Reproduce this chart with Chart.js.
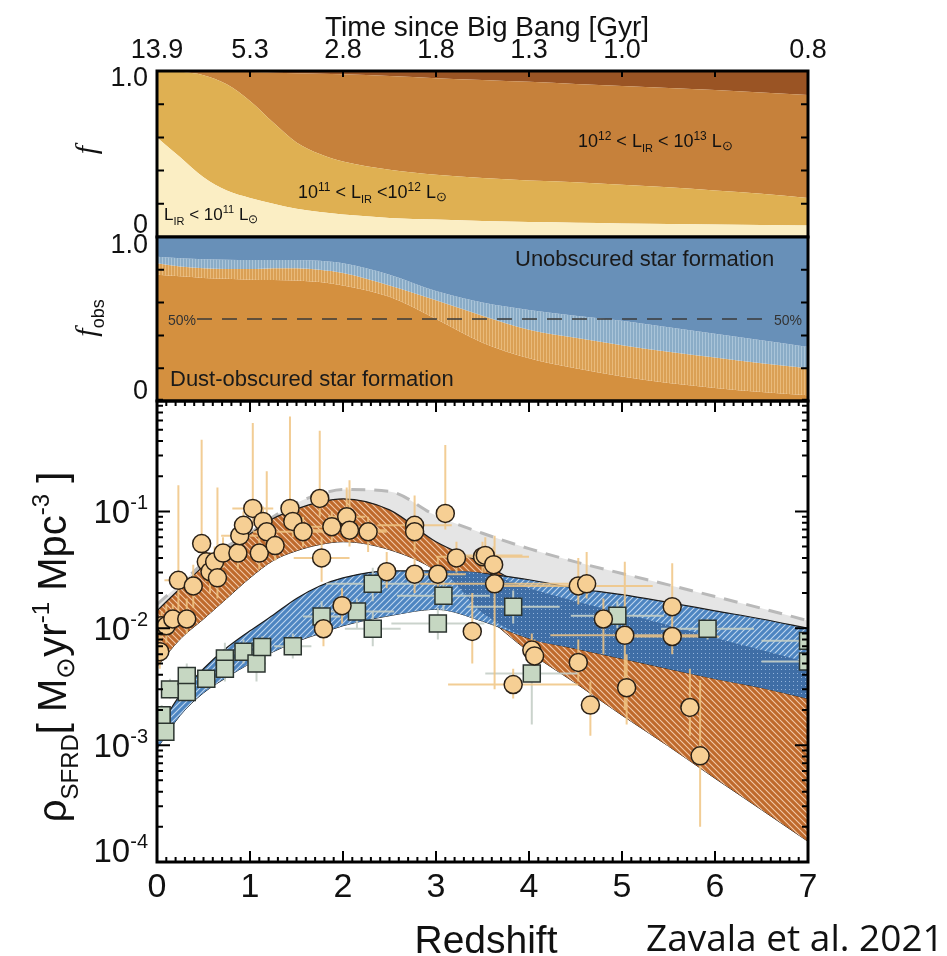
<!DOCTYPE html>
<html>
<head>
<meta charset="utf-8">
<script src="https://cdn.jsdelivr.net/npm/chart.js@4.4.0/dist/chart.umd.min.js"></script>
<style>
  body { margin: 0; background: #fff; }
  #wrap { position: relative; width: 947px; height: 956px; }
  #wrap canvas { position: absolute; left: 0; top: 0; }
</style>
</head>
<body>
<div id="wrap">
  <canvas id="fracChart" width="947" height="956"></canvas>
  <canvas id="obsChart" width="947" height="956"></canvas>
  <canvas id="sfrdChart" width="947" height="956"></canvas>
</div>
<script>
// redshift grid shared by all model curves
const redshiftGrid = [0, 0.25, 0.5, 0.75, 1, 1.25, 1.5, 1.75, 2, 2.5, 3, 3.5, 4, 4.5, 5, 5.5, 6, 6.5, 7];
const timeLabels = ['13.9', '5.3', '2.8', '1.8', '1.3', '1.0', '', '0.8'];

// top panel: cumulative fraction of SFRD per L_IR bin
const fracFaint = [0.60, 0.48, 0.36, 0.28, 0.235, 0.20, 0.17, 0.15, 0.135, 0.115, 0.105, 0.097, 0.09, 0.086, 0.082, 0.078, 0.075, 0.072, 0.07];
const fracLirg  = [1.0, 0.995, 0.975, 0.92, 0.82, 0.69, 0.57, 0.50, 0.455, 0.405, 0.375, 0.355, 0.34, 0.33, 0.315, 0.30, 0.28, 0.26, 0.235];
const fracUlirg = [1.0, 1.0, 0.998, 0.996, 0.994, 0.99, 0.987, 0.984, 0.98, 0.97, 0.957, 0.946, 0.935, 0.922, 0.91, 0.897, 0.885, 0.87, 0.855];

// middle panel: obscured fraction (lower bound, median, upper bound)
const obsLow  = [0.77, 0.76, 0.75, 0.745, 0.74, 0.738, 0.735, 0.725, 0.705, 0.635, 0.50, 0.355, 0.26, 0.20, 0.15, 0.11, 0.08, 0.055, 0.035];
const obsMid  = [0.84, 0.82, 0.81, 0.805, 0.805, 0.81, 0.81, 0.80, 0.78, 0.705, 0.615, 0.52, 0.435, 0.385, 0.34, 0.30, 0.265, 0.23, 0.20];
const obsHigh = [0.88, 0.87, 0.865, 0.862, 0.86, 0.86, 0.86, 0.855, 0.84, 0.77, 0.67, 0.60, 0.555, 0.52, 0.49, 0.45, 0.41, 0.37, 0.33];
const halfLineZ = [0.43, 6.55];
const halfLevel = 0.5;

// bottom panel: SFRD bands
const totalBandHi = [0.016, 0.024, 0.036, 0.05, 0.065, 0.09, 0.118, 0.14, 0.154, 0.148, 0.092, 0.065, 0.048, 0.037, 0.0294, 0.0235, 0.0187, 0.0148, 0.0116];
const totalBandLo = [0.012, 0.019, 0.03, 0.042, 0.057, 0.078, 0.095, 0.11, 0.118, 0.095, 0.05, 0.032, 0.024, 0.02, 0.018, 0.015, 0.013, 0.011, 0.0092];
const dustBandHi = [0.0141, 0.022, 0.034, 0.047, 0.064, 0.087, 0.105, 0.12, 0.128, 0.103, 0.055, 0.036, 0.022, 0.017, 0.0135, 0.0106, 0.0083, 0.0065, 0.0051];
const dustBandLo = [0.0047, 0.0081, 0.012, 0.018, 0.027, 0.038, 0.046, 0.052, 0.055, 0.047, 0.031, 0.0135, 0.0063, 0.0034, 0.0018, 0.00098, 0.00052, 0.00028, 0.00015];
const uvBandHi = [0.0013, 0.0027, 0.0045, 0.0068, 0.0095, 0.013, 0.018, 0.023, 0.027, 0.031, 0.031, 0.0295, 0.026, 0.022, 0.0194, 0.0166, 0.0141, 0.012, 0.0100];
const uvBandLo = [0.00093, 0.0018, 0.0028, 0.0038, 0.005, 0.0063, 0.0077, 0.009, 0.0105, 0.0128, 0.0145, 0.0115, 0.0082, 0.0067, 0.0055, 0.0045, 0.0037, 0.0031, 0.0025];

// IR / sub-mm measurements (circles)
const irZ = [0.03, 0.05, 0.10, 0.17, 0.32, 0.23, 0.39, 0.48, 0.53, 0.57, 0.62, 0.65, 0.71, 0.87, 0.89, 0.93, 1.03, 1.10, 1.14, 1.18, 1.27, 1.43, 1.46, 1.57, 1.75, 1.77, 1.88, 2.04, 2.07, 2.27, 2.47, 2.77, 2.77, 2.77, 3.02, 3.10, 3.22, 1.99, 1.79, 3.39, 3.50, 3.53, 3.62, 3.63, 4.53, 4.62, 5.54, 4.80, 5.03, 5.54, 4.03, 4.06, 4.53, 3.83, 5.05, 4.66, 5.73, 5.84];
const irRate = [0.0063, 0.0105, 0.0105, 0.012, 0.012, 0.0257, 0.023, 0.053, 0.037, 0.0305, 0.037, 0.027, 0.044, 0.044, 0.062, 0.076, 0.106, 0.044, 0.082, 0.067, 0.051, 0.106, 0.082, 0.067, 0.129, 0.040, 0.074, 0.090, 0.069, 0.067, 0.0305, 0.076, 0.067, 0.029, 0.029, 0.096, 0.040, 0.0156, 0.0099, 0.0094, 0.041, 0.042, 0.035, 0.024, 0.023, 0.024, 0.0153, 0.012, 0.0087, 0.0085, 0.0065, 0.0058, 0.0051, 0.0033, 0.0031, 0.0022, 0.0021, 0.00081];
const irZErr = [0, 0.05, 0, 0.1, 0.1, 0.15, 0, 0, 0.1, 0, 0.1, 0, 0.1, 0, 0.2, 0, 0.22, 0, 0, 0.15, 0, 0.1, 0, 0.3, 0, 0.3, 0.3, 0.2, 0.4, 0.2, 0, 0.4, 0, 0, 0.3, 0, 0, 0, 0, 0, 0.5, 0.4, 0, 0.8, 0.8, 0, 0, 0, 0.8, 0.5, 0, 0, 0, 0.7, 0, 0, 0, 0];
const irRateLo = [0.0045, 0.008, 0.0075, 0.009, 0.009, 0.012, 0.015, 0.03, 0.025, 0.02, 0.028, 0.018, 0.033, 0.032, 0.045, 0.055, 0.075, 0.032, 0.06, 0.048, 0.038, 0.075, 0.06, 0.05, 0.09, 0.025, 0.055, 0.065, 0.05, 0.045, 0.022, 0.05, 0.045, 0.02, 0.02, 0.07, 0.03, 0.011, 0.007, 0.005, 0.03, 0.03, 0.025, 0.003, 0.016, 0.018, 0.0085, 0.006, 0.002, 0.006, 0.004, 0.004, 0.0035, 0.0025, 0.0015, 0.0012, 0.0012, 0.0002];
const irRateHi = [0.009, 0.014, 0.016, 0.016, 0.018, 0.167, 0.035, 0.41, 0.06, 0.045, 0.05, 0.16, 0.06, 0.06, 0.085, 0.10, 0.57, 0.06, 0.11, 0.22, 0.07, 0.65, 0.11, 0.09, 0.49, 0.06, 0.10, 0.16, 0.185, 0.09, 0.045, 0.137, 0.09, 0.04, 0.04, 0.37, 0.055, 0.022, 0.014, 0.02, 0.055, 0.06, 0.05, 0.062, 0.04, 0.045, 0.036, 0.018, 0.037, 0.012, 0.009, 0.008, 0.008, 0.0045, 0.006, 0.0035, 0.0045, 0.0036];

// UV measurements (squares)
const uvZ = [0.05, 0.09, 0.14, 0.32, 0.32, 0.53, 0.73, 0.73, 0.93, 1.07, 1.13, 1.46, 1.77, 2.15, 2.32, 2.32, 3.02, 3.08, 3.83, 4.03, 4.95, 5.92, 7.0, 7.0];
const uvRate = [0.0018, 0.0013, 0.0030, 0.0039, 0.00285, 0.0037, 0.0055, 0.0045, 0.0063, 0.005, 0.0069, 0.0070, 0.0126, 0.0139, 0.0099, 0.024, 0.011, 0.019, 0.0153, 0.0041, 0.0128, 0.0099, 0.0078, 0.0052];
const uvZErr = [0, 0, 0.05, 0, 0, 0.1, 0, 0, 0.15, 0.1, 0.1, 0.2, 0.2, 0.4, 0.3, 0.5, 0.5, 0.5, 0.5, 0.5, 0.5, 0.5, 0.5, 0.5];
const uvRateLo = [0.0015, 0.0011, 0.0025, 0.003, 0.0024, 0.003, 0.004, 0.0035, 0.005, 0.0035, 0.0055, 0.0055, 0.009, 0.01, 0.007, 0.017, 0.008, 0.014, 0.011, 0.0015, 0.01, 0.008, 0.007, 0.0045];
const uvRateHi = [0.0022, 0.0016, 0.0037, 0.005, 0.0035, 0.0045, 0.0075, 0.006, 0.008, 0.0065, 0.0085, 0.009, 0.017, 0.018, 0.014, 0.033, 0.015, 0.026, 0.021, 0.006, 0.017, 0.012, 0.0095, 0.006];

const SANS = '"Liberation Sans", Arial, Helvetica, sans-serif';
const SERIF = '"Liberation Serif", "Times New Roman", serif';
Chart.defaults.font.family = SANS;

const curve = arr => redshiftGrid.map((z, i) => ({ x: z, y: arr[i] }));
const points = (zs, vs) => zs.map((z, i) => ({ x: z, y: vs[i] }));

function makePattern(bg, size, paint) {
  const c = document.createElement('canvas');
  c.width = size; c.height = size;
  const g = c.getContext('2d');
  g.fillStyle = bg;
  g.fillRect(0, 0, size, size);
  paint(g, size);
  return g.createPattern(c, 'repeat');
}
const orangeHatch = makePattern('#bf6a2c', 6, (g, s) => {
  g.strokeStyle = 'rgba(255,225,200,0.8)'; g.lineWidth = 1.1;
  g.beginPath();
  g.moveTo(0, 0); g.lineTo(s, s);
  g.moveTo(-1, s - 1); g.lineTo(1, s + 1);
  g.moveTo(s - 1, -1); g.lineTo(s + 1, 1);
  g.stroke();
});
const blueHatch = makePattern('#4d85c1', 6, (g, s) => {
  g.strokeStyle = 'rgba(220,235,250,0.8)'; g.lineWidth = 1.1;
  g.beginPath();
  g.moveTo(0, s); g.lineTo(s, 0);
  g.moveTo(-1, 1); g.lineTo(1, -1);
  g.moveTo(s - 1, s + 1); g.lineTo(s + 1, s - 1);
  g.stroke();
});
const blueDots = makePattern('#3f6ea6', 4, (g) => {
  g.fillStyle = '#93b3da';
  g.fillRect(1, 1, 1, 1);
});
const orangeStripes = makePattern('#daa055', 3, (g) => {
  g.fillStyle = '#e9ba7a';
  g.fillRect(0, 0, 1, 3);
});
const blueStripes = makePattern('#8aacc7', 3, (g) => {
  g.fillStyle = '#a9c4d9';
  g.fillRect(0, 0, 1, 3);
});

// draws a run of text pieces with their own size / vertical shift
function rich(ctx, parts, x, y, align, angle) {
  ctx.save();
  ctx.translate(x, y);
  if (angle) ctx.rotate(angle);
  ctx.textBaseline = 'alphabetic';
  ctx.textAlign = 'left';
  const fontOf = p => `${p[3] || ''} ${p[1]}px ${p[4] || SANS}`;
  let w = 0;
  parts.forEach(p => { ctx.font = fontOf(p); w += ctx.measureText(p[0]).width; });
  let cx = align === 'right' ? -w : align === 'center' ? -w / 2 : 0;
  parts.forEach(p => {
    ctx.font = fontOf(p);
    ctx.fillText(p[0], cx, p[2] || 0);
    cx += ctx.measureText(p[0]).width;
  });
  ctx.restore();
}

function tickMarks(ctx, area, scale, list, side) {
  ctx.beginPath();
  list.forEach(([v, len]) => {
    const p = scale.getPixelForValue(v);
    if (side === 'top') { ctx.moveTo(p, area.top); ctx.lineTo(p, area.top + len); }
    if (side === 'bottom') { ctx.moveTo(p, area.bottom); ctx.lineTo(p, area.bottom - len); }
    if (side === 'left') { ctx.moveTo(area.left, p); ctx.lineTo(area.left + len, p); }
    if (side === 'right') { ctx.moveTo(area.right, p); ctx.lineTo(area.right - len, p); }
  });
  ctx.stroke();
}

function drawFrame(ctx, a) {
  ctx.strokeStyle = '#000';
  ctx.lineWidth = 3;
  ctx.strokeRect(a.left, a.top, a.right - a.left, a.bottom - a.top);
  ctx.lineWidth = 2;
}

const fracTicks = [[0.2, 7], [0.4, 7], [0.6, 7], [0.8, 7]];
const zMajor = [1, 2, 3, 4, 5, 6].map(z => [z, 6]);
const zAll = [];
for (let i = 1; i < 70; i++) zAll.push([i / 10, i % 10 === 0 ? 11 : 5]);
const logTicks = [];
for (let e = -4; e <= -1; e++) {
  for (let m = 1; m <= 9; m++) logTicks.push([m * Math.pow(10, e), m === 1 ? 13 : 6]);
}

const baseOptions = (padding) => ({
  responsive: false,
  animation: false,
  layout: { padding },
  elements: { point: { radius: 0 }, line: { borderWidth: 0, cubicInterpolationMode: 'monotone' } },
  plugins: { legend: { display: false }, tooltip: { enabled: false } }
});

const hiddenY = { afterFit: s => { s.width = 157; }, grid: { display: false, drawTicks: false }, border: { display: false }, ticks: { display: false } };

// ---------- top panel ----------
new Chart(document.getElementById('fracChart'), {
  type: 'line',
  data: {
    datasets: [
      { data: curve(fracFaint), fill: 'start', backgroundColor: '#fbeec4' },
      { data: curve(fracLirg), fill: '-1', backgroundColor: '#dfb052' },
      { data: curve(fracUlirg), fill: '-1', backgroundColor: '#c6813b' },
      { data: curve(fracUlirg), fill: 'end', backgroundColor: '#9a5424' }
    ]
  },
  options: Object.assign(baseOptions({ left: 0, right: 139, top: 0, bottom: 719 }), {
    scales: {
      x: {
        type: 'linear', position: 'top', min: 0, max: 7,
        afterFit: s => { s.height = 71; },
        grid: { display: false, drawTicks: false }, border: { display: false },
        ticks: { stepSize: 1, autoSkip: false, maxRotation: 0, padding: 4, color: '#111', font: { size: 27 }, callback: v => timeLabels[v] }
      },
      y: Object.assign({ min: 0, max: 1 }, hiddenY)
    }
  }),
  plugins: [{
    id: 'fracDecor',
    afterDraw(chart) {
      const { ctx, chartArea: a, scales } = chart;
      ctx.save();
      drawFrame(ctx, a);
      tickMarks(ctx, a, scales.y, fracTicks, 'left');
      tickMarks(ctx, a, scales.y, fracTicks, 'right');
      tickMarks(ctx, a, scales.x, zMajor, 'top');
      ctx.fillStyle = '#111';
      ctx.textAlign = 'center';
      ctx.textBaseline = 'alphabetic';
      ctx.font = `28px ${SANS}`;
      ctx.fillText('Time since Big Bang [Gyr]', 487, 36);
      ctx.textAlign = 'right';
      ctx.textBaseline = 'middle';
      ctx.font = `27px ${SANS}`;
      ctx.fillText('1.0', 148, scales.y.getPixelForValue(1) + 8);
      ctx.fillText('0', 148, scales.y.getPixelForValue(0) - 11);
      rich(ctx, [['f', 30, 0, 'italic', SERIF]], 96, 150, 'center', -Math.PI / 2);
      rich(ctx, [['10', 18], ['12', 12, -7], [' < L', 18], ['IR', 11, 5], [' < 10', 18], ['13', 12, -7], [' L', 18], ['\u2299', 13, 3]], 578, 147, 'left');
      rich(ctx, [['10', 18], ['11', 12, -7], [' < L', 18], ['IR', 11, 5], [' <10', 18], ['12', 12, -7], [' L', 18], ['\u2299', 13, 3]], 298, 198, 'left');
      rich(ctx, [['L', 17], ['IR', 11, 5], [' < 10', 17], ['11', 11, -7], [' L', 17], ['\u2299', 12, 3]], 164, 220, 'left');
      ctx.restore();
    }
  }]
});

// ---------- middle panel ----------
new Chart(document.getElementById('obsChart'), {
  type: 'line',
  data: {
    datasets: [
      { data: curve(obsLow), fill: 'start', backgroundColor: '#d4903f', order: 5 },
      { data: curve(obsMid), fill: '-1', backgroundColor: orangeStripes, order: 4 },
      { data: curve(obsHigh), fill: '-1', backgroundColor: blueStripes, order: 3 },
      { data: curve(obsHigh), fill: 'end', backgroundColor: '#6890b8', order: 2 },
      {
        data: halfLineZ.map(z => ({ x: z, y: halfLevel })), fill: false,
        borderColor: '#3a3a3a', borderWidth: 1.5, borderDash: [15, 10], order: 0
      }
    ]
  },
  options: Object.assign(baseOptions({ left: 0, right: 139, top: 237, bottom: 555 }), {
    scales: {
      x: { type: 'linear', min: 0, max: 7, display: false },
      y: Object.assign({ min: 0, max: 1 }, hiddenY)
    }
  }),
  plugins: [{
    id: 'obsDecor',
    afterDraw(chart) {
      const { ctx, chartArea: a, scales } = chart;
      ctx.save();
      drawFrame(ctx, a);
      tickMarks(ctx, a, scales.y, fracTicks, 'left');
      tickMarks(ctx, a, scales.y, fracTicks, 'right');
      ctx.fillStyle = '#1a1a1a';
      ctx.textAlign = 'left';
      ctx.textBaseline = 'alphabetic';
      ctx.font = `22px ${SANS}`;
      ctx.fillText('Unobscured star formation', 515, 266);
      ctx.fillText('Dust-obscured star formation', 170, 386);
      ctx.font = `14px ${SANS}`;
      ctx.fillStyle = '#333';
      ctx.fillText('50%', 168, 325);
      ctx.fillText('50%', 774, 325);
      ctx.fillStyle = '#111';
      ctx.textAlign = 'right';
      ctx.textBaseline = 'middle';
      ctx.font = `27px ${SANS}`;
      ctx.fillText('1.0', 148, scales.y.getPixelForValue(1) + 9);
      ctx.fillText('0', 148, scales.y.getPixelForValue(0) - 9);
      rich(ctx, [['f', 30, 0, 'italic', SERIF], ['obs', 18, 8]], 96, 318, 'center', -Math.PI / 2);
      ctx.restore();
    }
  }]
});

// ---------- bottom panel ----------
const overlapLo = redshiftGrid.map((z, i) => Math.max(dustBandLo[i], uvBandLo[i]));
const overlapHi = redshiftGrid.map((z, i) => Math.min(dustBandHi[i], uvBandHi[i]));
const overlapBase = overlapLo.map((v, i) => Math.min(v, overlapHi[i]));

const UV_POINTS = 8;
new Chart(document.getElementById('sfrdChart'), {
  type: 'line',
  data: {
    datasets: [
      { data: curve(totalBandLo), fill: false, order: 20 },
      { data: curve(totalBandHi), fill: { target: 0 }, backgroundColor: '#e5e5e5', borderColor: '#b9b9b9', borderWidth: 3, borderDash: [14, 9], order: 19 },
      { data: curve(dustBandLo), fill: false, borderColor: '#1c1c1c', borderWidth: 1, order: 18 },
      { data: curve(dustBandHi), fill: { target: 2 }, backgroundColor: orangeHatch, borderColor: '#1c1c1c', borderWidth: 1.2, order: 17 },
      { data: curve(uvBandLo), fill: false, borderColor: '#1c1c1c', borderWidth: 1, order: 16 },
      { data: curve(uvBandHi), fill: { target: 4 }, backgroundColor: blueHatch, borderColor: '#1c1c1c', borderWidth: 1.2, order: 15 },
      { data: redshiftGrid.map((z, i) => ({ x: z, y: overlapBase[i] })), fill: false, order: 14 },
      { data: redshiftGrid.map((z, i) => ({ x: z, y: overlapHi[i] })), fill: { target: 6 }, backgroundColor: blueDots, order: 13 },
      {
        data: points(uvZ, uvRate), showLine: false, pointStyle: 'rect', pointRadius: 12,
        backgroundColor: '#c6d7c2', borderColor: '#2c3530', pointBorderWidth: 1.5, order: 1
      },
      {
        data: points(irZ, irRate), showLine: false, pointStyle: 'circle', pointRadius: 9,
        backgroundColor: '#f6cf94', borderColor: '#2a2016', pointBorderWidth: 1.5, order: 0
      }
    ]
  },
  options: Object.assign(baseOptions({ left: 0, right: 139, top: 401, bottom: 0 }), {
    scales: {
      x: {
        type: 'linear', position: 'bottom', min: 0, max: 7,
        afterFit: s => { s.height = 94; },
        grid: { display: false, drawTicks: false }, border: { display: false },
        ticks: { stepSize: 1, autoSkip: false, maxRotation: 0, padding: 5, color: '#111', font: { size: 34 } }
      },
      y: Object.assign({ type: 'logarithmic', min: 1e-4, max: 0.88 }, hiddenY)
    }
  }),
  plugins: [{
    id: 'sfrdDecor',
    beforeDatasetDraw(chart, args) {
      if (args.index !== UV_POINTS) return;
      const { ctx, chartArea: a, scales: { x, y } } = chart;
      ctx.save();
      ctx.beginPath();
      ctx.rect(a.left, a.top, a.right - a.left, a.bottom - a.top);
      ctx.clip();
      ctx.lineWidth = 2;
      const bars = (zs, vs, dz, lo, hi, color) => {
        ctx.strokeStyle = color;
        ctx.beginPath();
        zs.forEach((z, i) => {
          const px = x.getPixelForValue(z), py = y.getPixelForValue(vs[i]);
          ctx.moveTo(px, y.getPixelForValue(lo[i]));
          ctx.lineTo(px, y.getPixelForValue(hi[i]));
          if (dz[i] > 0) {
            ctx.moveTo(x.getPixelForValue(z - dz[i]), py);
            ctx.lineTo(x.getPixelForValue(z + dz[i]), py);
          }
        });
        ctx.stroke();
      };
      bars(uvZ, uvRate, uvZErr, uvRateLo, uvRateHi, 'rgba(196,206,198,0.9)');
      bars(irZ, irRate, irZErr, irRateLo, irRateHi, 'rgba(240,196,130,0.85)');
      ctx.restore();
    },
    afterDraw(chart) {
      const { ctx, chartArea: a, scales } = chart;
      ctx.save();
      drawFrame(ctx, a);
      tickMarks(ctx, a, scales.x, zAll, 'top');
      tickMarks(ctx, a, scales.x, zAll, 'bottom');
      tickMarks(ctx, a, scales.y, logTicks, 'left');
      tickMarks(ctx, a, scales.y, logTicks, 'right');
      ctx.fillStyle = '#111';
      [-1, -2, -3, -4].forEach(e => {
        const py = Math.min(scales.y.getPixelForValue(Math.pow(10, e)), 850);
        rich(ctx, [['10', 33], [String(e), 20, -14]], 148, py + 12, 'right');
      });
      rich(ctx, [['\u03c1', 40], ['SFRD', 24, 12], ['[ ', 40], ['M', 40], ['\u2299', 26, 8], ['yr', 40], ['-1', 24, -17], [' Mpc', 40], ['-3', 24, -17], [' ]', 40]], 66, 647, 'center', -Math.PI / 2);
      ctx.textAlign = 'center';
      ctx.textBaseline = 'alphabetic';
      ctx.font = `39px ${SANS}`;
      ctx.fillText('Redshift', 486, 953);
      ctx.textAlign = 'left';
      ctx.font = `37px "Open Sans", "Noto Sans", sans-serif`;
      ctx.fillText('Zavala et al. 2021', 646, 951);
      ctx.restore();
    }
  }]
});
</script>
</body>
</html>
